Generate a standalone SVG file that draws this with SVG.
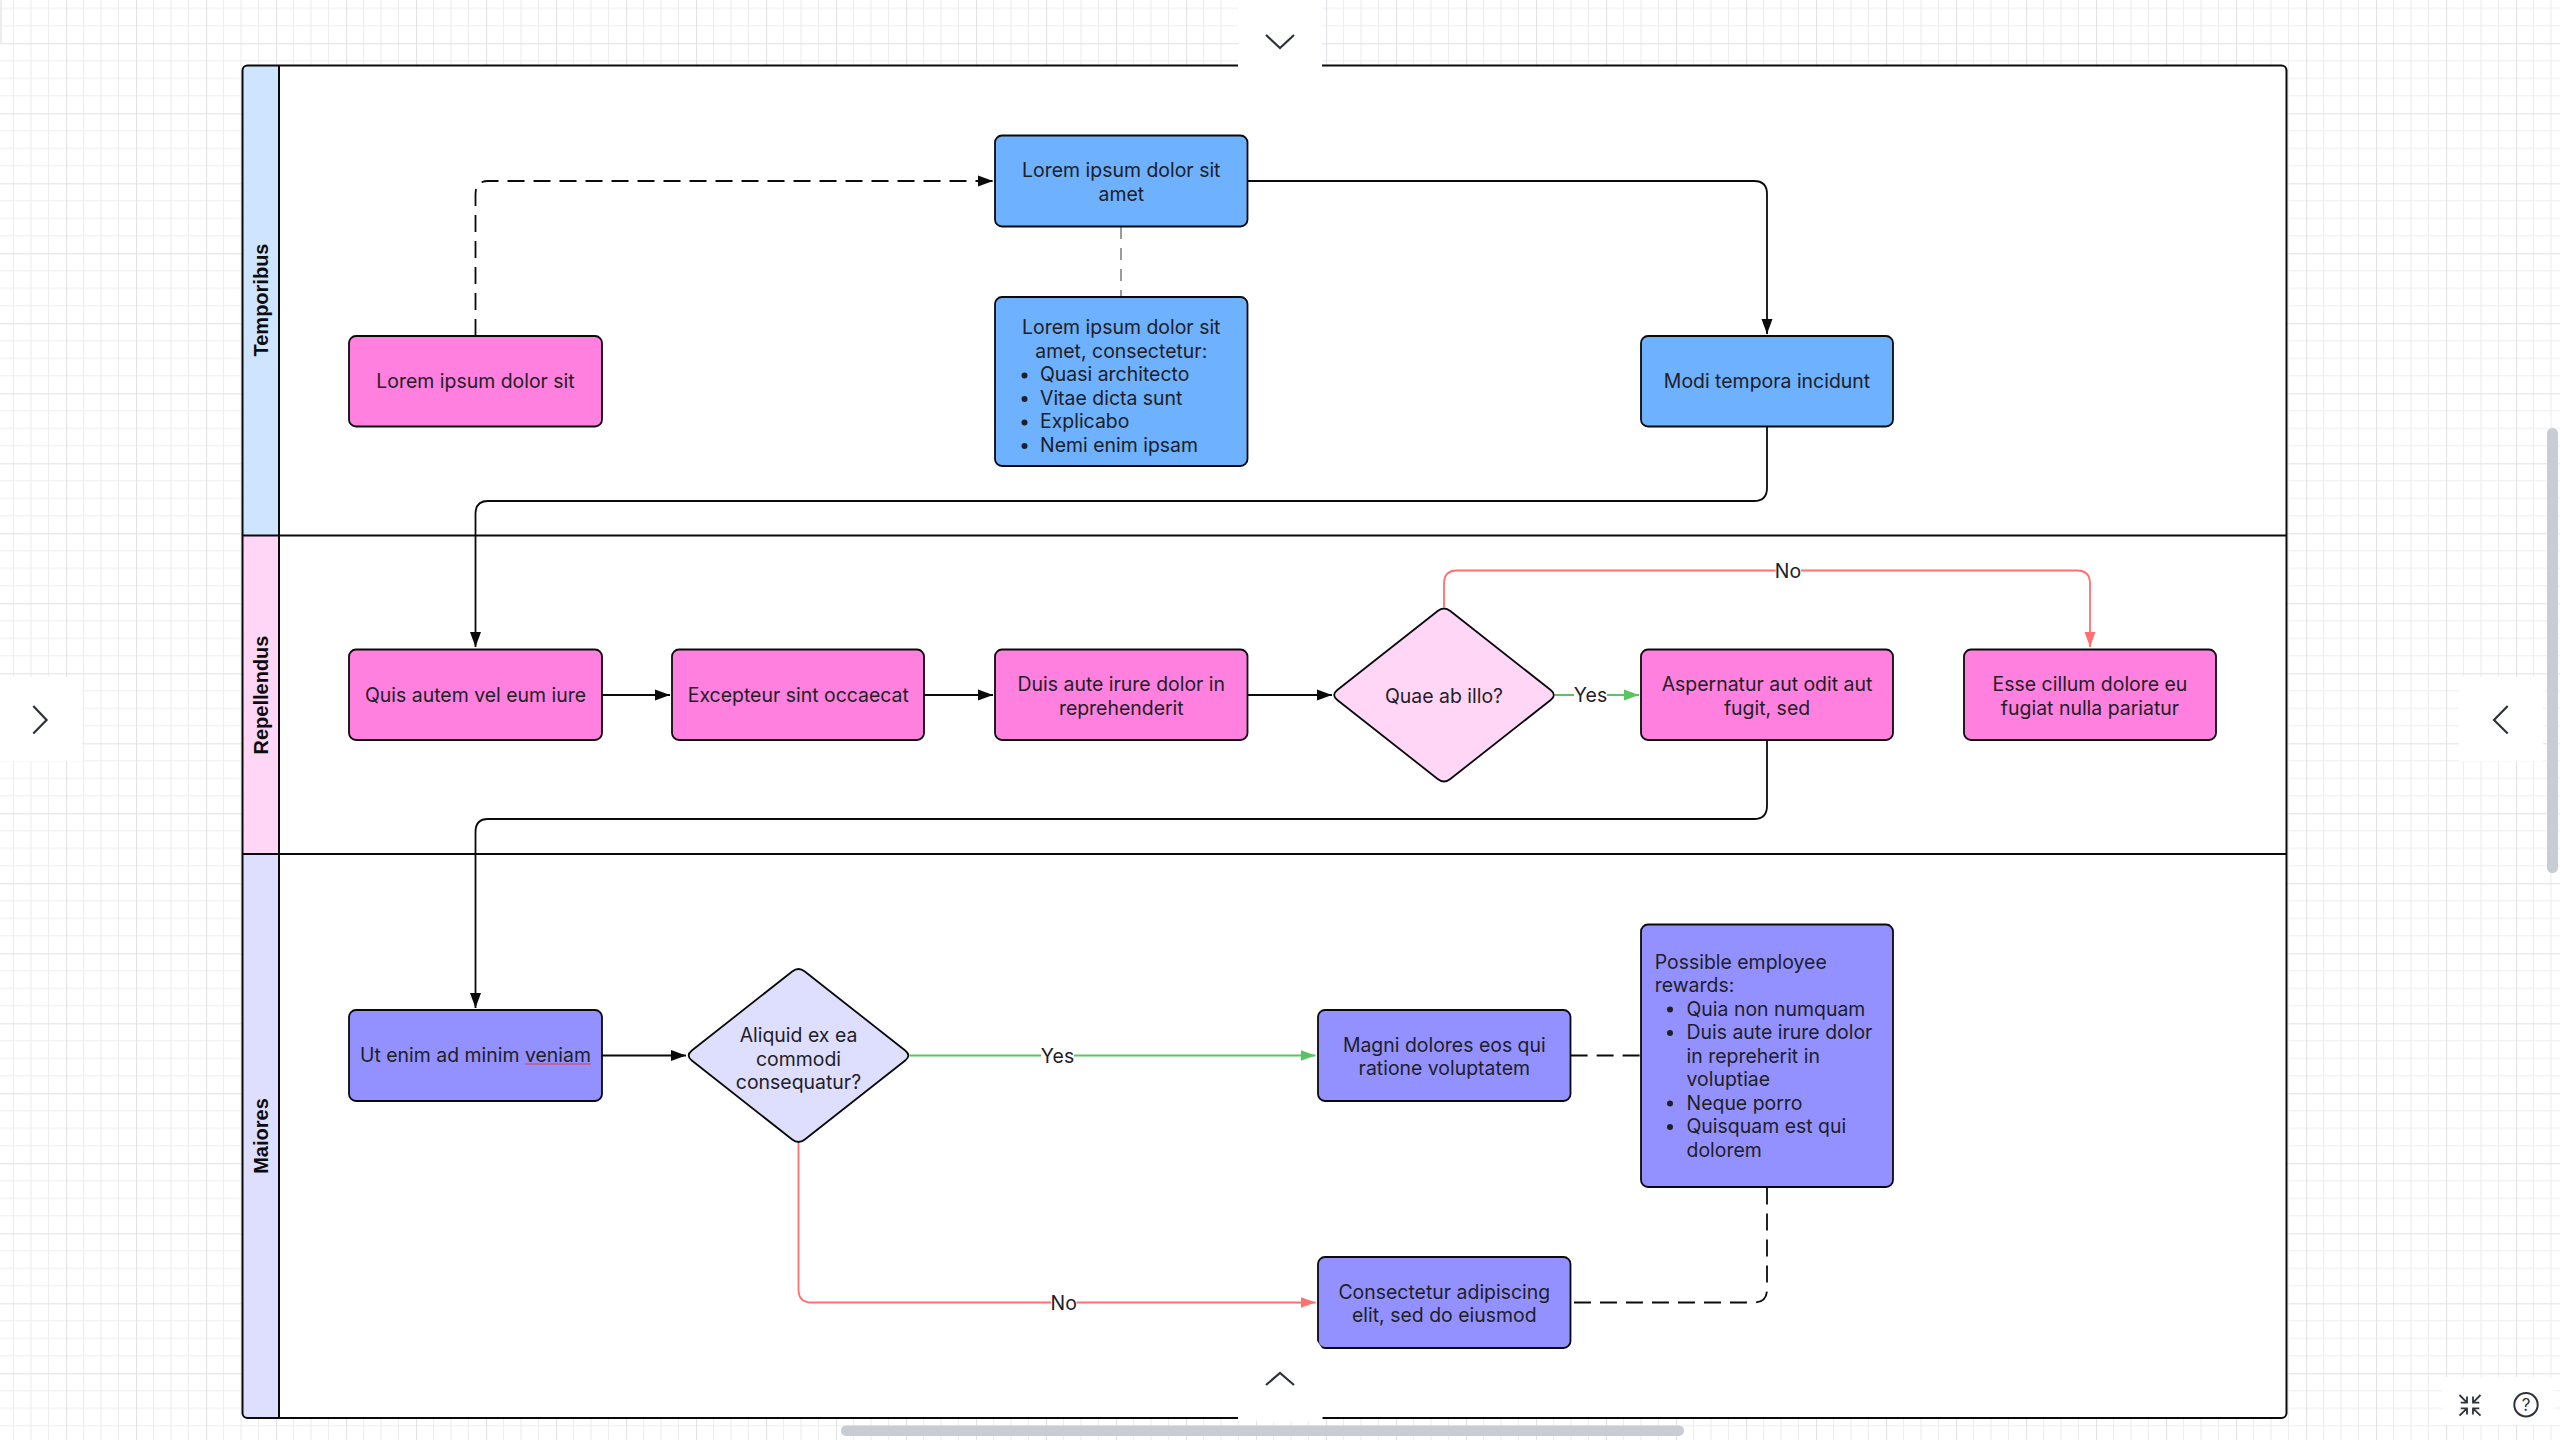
<svg xmlns="http://www.w3.org/2000/svg" width="2560" height="1440" viewBox="0 0 2560 1440">
<style>
text{font-family:Inter,"Noto Sans","Liberation Sans",sans-serif;font-size:19.45px;fill:#1e2026}
.c{text-anchor:middle}
.lane{font-family:"Liberation Sans",Arial,sans-serif;font-size:20px;font-weight:700;fill:#0c0c10;text-anchor:middle}
.n{stroke:#0a0a0a;stroke-width:1.8}
.blue{fill:#6db1ff}.pink{fill:#ff80df}.purple{fill:#9391ff}
.conn{fill:none;stroke:#0a0a0a;stroke-width:1.8}
.dash{stroke-dasharray:17 9}
.thin{stroke-width:1.3;stroke:#666;stroke-dasharray:12 9}
.green{stroke:#5ac463}.red{stroke:#ff7070}
.chev{fill:none;stroke:#2e323a;stroke-width:2.2}
.pan{fill:#fff}
.bar{fill:#c8ccd3}
.b{fill:#1e2026}
</style>
<defs>
<pattern id="grid" x="66" y="43.3" width="70" height="70" patternUnits="userSpaceOnUse">
<path d="M17.5 0V70M35 0V70M52.5 0V70M0 17.5H70M0 35H70M0 52.5H70" stroke="#eeeef1" stroke-width="1.2" fill="none"/>
<path d="M0.5 0V70M0 0.5H70" stroke="#e2e2e6" stroke-width="1.2" fill="none"/>
</pattern>
<marker id="ak" markerUnits="userSpaceOnUse" markerWidth="16" markerHeight="12" refX="15" refY="6" orient="auto"><path d="M0 0.5L15 6L0 11.5Z" fill="#0a0a0a"/></marker>
<marker id="ag" markerUnits="userSpaceOnUse" markerWidth="16" markerHeight="12" refX="15" refY="6" orient="auto"><path d="M0 0.5L15 6L0 11.5Z" fill="#5ac463"/></marker>
<marker id="ar" markerUnits="userSpaceOnUse" markerWidth="16" markerHeight="12" refX="15" refY="6" orient="auto"><path d="M0 0.5L15 6L0 11.5Z" fill="#ff7070"/></marker>
<path id="dia" d="M6.3,-84L106.7,-5Q113,0 106.7,5L6.3,84Q0,89 -6.3,84L-106.7,5Q-113,0 -106.7,-5L-6.3,-84Q0,-89 6.3,-84Z"/>
</defs>
<rect width="2560" height="1440" fill="#fff"/>
<rect width="2560" height="1440" fill="url(#grid)"/>
<rect x="0" y="0" width="2" height="43" fill="#ececef"/>
<rect id="hscroll" x="841" y="1425.5" width="843" height="10.5" rx="5" class="bar"/>
<rect id="vscroll" x="2547" y="428" width="11" height="445" rx="5.5" class="bar"/>

<g id="swimlanes">
<rect x="242.5" y="65.5" width="2044" height="1352.5" rx="5" fill="#fff"/>
<path d="M279 65.5V535.5H242.5V70.5a5 5 0 0 1 5-5Z" fill="#cfe4ff"/>
<rect x="242.5" y="535.5" width="36.5" height="318.5" fill="#ffd6f6"/>
<path d="M242.5 854H279V1418H247.5a5 5 0 0 1-5-5Z" fill="#dedeff"/>
<rect x="242.5" y="65.5" width="2044" height="1352.5" rx="5" fill="none" stroke="#0a0a0a" stroke-width="2"/>
<path d="M279 65.5V1418M242.5 535.5H2286.5M242.5 854H2286.5" fill="none" stroke="#0a0a0a" stroke-width="2"/>
<text class="lane" transform="translate(268 300) rotate(-90)">Temporibus</text>
<text class="lane" transform="translate(268 695) rotate(-90)">Repellendus</text>
<text class="lane" transform="translate(268 1136) rotate(-90)">Maiores</text>
</g>

<g id="connectors">
<path class="conn dash" d="M475.5 336V194Q475.5 181 488.5 181H993" marker-end="url(#ak)"/>
<path class="conn thin" d="M1121 227V296"/>
<path class="conn" d="M1247.5 181H1754Q1767 181 1767 194V334" marker-end="url(#ak)"/>
<path class="conn" d="M1767 427V488Q1767 501 1754 501H488Q475.5 501 475.5 514V647" marker-end="url(#ak)"/>
<path class="conn" d="M602 695H670" marker-end="url(#ak)"/>
<path class="conn" d="M924 695H993" marker-end="url(#ak)"/>
<path class="conn" d="M1247.5 695H1332" marker-end="url(#ak)"/>
<path class="conn green" d="M1555 695H1639" marker-end="url(#ag)"/>
<path class="conn red" d="M1444 607V583.5Q1444 570.5 1457 570.5H2077Q2090 570.5 2090 583.5V647" marker-end="url(#ar)"/>
<path class="conn" d="M1767 741V806Q1767 819 1754 819H488Q475.5 819 475.5 832V1008" marker-end="url(#ak)"/>
<path class="conn" d="M602 1055.5H686" marker-end="url(#ak)"/>
<path class="conn green" d="M909.5 1055.5H1315.5" marker-end="url(#ag)"/>
<path class="conn red" d="M798.5 1143V1289.5Q798.5 1302.5 811.5 1302.5H1315.5" marker-end="url(#ar)"/>
<path class="conn dash" d="M1570.6 1055.5H1641"/>
<path class="conn dash" d="M1767 1187.5V1289.5Q1767 1302.5 1754 1302.5H1570.6"/>
<rect x="1574" y="684" width="33" height="22" fill="#fff"/>
<text class="c" x="1590.5" y="702">Yes</text>
<rect x="1775.5" y="560" width="25.5" height="22" fill="#fff"/>
<text class="c" x="1788" y="578">No</text>
<rect x="1041" y="1045" width="33" height="22" fill="#fff"/>
<text class="c" x="1057.5" y="1062.5">Yes</text>
<rect x="1051" y="1291" width="25.5" height="22" fill="#fff"/>
<text class="c" x="1063.7" y="1309.5">No</text>
</g>

<g id="n1"><rect class="n pink" x="349" y="336" width="253" height="90.5" rx="7"/><text class="c" x="475.5" y="387.5">Lorem ipsum dolor sit</text></g>
<g id="n2"><rect class="n blue" x="995" y="135.5" width="252.5" height="91" rx="7"/><text class="c" x="1121.3" y="177.3">Lorem ipsum dolor sit</text><text class="c" x="1121.3" y="200.8">amet</text></g>
<g id="n3"><rect class="n blue" x="995" y="297" width="252.5" height="169" rx="7"/><text class="c" x="1121.3" y="334.4">Lorem ipsum dolor sit</text><text class="c" x="1121.3" y="357.9">amet, consectetur:</text>
<circle class="b" cx="1024.5" cy="375.5" r="3"/><text x="1040" y="381.4">Quasi architecto</text>
<circle class="b" cx="1024.5" cy="399" r="3"/><text x="1040" y="404.9">Vitae dicta sunt</text>
<circle class="b" cx="1024.5" cy="422.5" r="3"/><text x="1040" y="428.4">Explicabo</text>
<circle class="b" cx="1024.5" cy="446" r="3"/><text x="1040" y="451.9">Nemi enim ipsam</text></g>
<g id="n4"><rect class="n blue" x="1641" y="336" width="252" height="90.5" rx="7"/><text class="c" x="1767" y="387.5">Modi tempora incidunt</text></g>
<g id="n5"><rect class="n pink" x="349" y="649.5" width="253" height="90.5" rx="7"/><text class="c" x="475.5" y="701.7">Quis autem vel eum iure</text></g>
<g id="n6"><rect class="n pink" x="672" y="649.5" width="252" height="90.5" rx="7"/><text class="c" x="798.3" y="701.7">Excepteur sint occaecat</text></g>
<g id="n7"><rect class="n pink" x="995" y="649.5" width="252.5" height="90.5" rx="7"/><text class="c" x="1121.3" y="691">Duis aute irure dolor in</text><text class="c" x="1121.3" y="714.5">reprehenderit</text></g>
<g id="n8"><use href="#dia" class="n" transform="translate(1444 695)" fill="#ffd6f6"/><text class="c" x="1444" y="702.5">Quae ab illo?</text></g>
<g id="n9"><rect class="n pink" x="1641" y="649.5" width="252" height="90.5" rx="7"/><text class="c" x="1767" y="691">Aspernatur aut odit aut</text><text class="c" x="1767" y="714.5">fugit, sed</text></g>
<g id="n10"><rect class="n pink" x="1964" y="649.5" width="252" height="90.5" rx="7"/><text class="c" x="2090" y="691">Esse cillum dolore eu</text><text class="c" x="2090" y="714.5">fugiat nulla pariatur</text></g>
<g id="n11"><rect class="n purple" x="349" y="1010" width="253" height="91" rx="7"/><text class="c" x="475.5" y="1062">Ut enim ad minim veniam</text><path d="M525 1064H591" stroke="#d8404a" stroke-width="1.2" fill="none"/></g>
<g id="n12"><use href="#dia" class="n" transform="translate(798.5 1055.5)" fill="#dedeff"/><text class="c" x="798.5" y="1042">Aliquid ex ea</text><text class="c" x="798.5" y="1065.5">commodi</text><text class="c" x="798.5" y="1089">consequatur?</text></g>
<g id="n13"><rect class="n purple" x="1318" y="1010" width="252.5" height="91" rx="7"/><text class="c" x="1444.3" y="1052">Magni dolores eos qui</text><text class="c" x="1444.3" y="1075">ratione voluptatem</text></g>
<g id="n14"><rect class="n purple" x="1641" y="924.5" width="252" height="262.5" rx="7"/><text x="1654.7" y="968.5">Possible employee</text><text x="1654.7" y="992">rewards:</text>
<circle class="b" cx="1670" cy="1009.5" r="3"/><text x="1686.5" y="1015.5">Quia non numquam</text>
<circle class="b" cx="1670" cy="1033" r="3"/><text x="1686.5" y="1039">Duis aute irure dolor</text>
<text x="1686.5" y="1062.5">in repreherit in</text><text x="1686.5" y="1086">voluptiae</text>
<circle class="b" cx="1670" cy="1103.5" r="3"/><text x="1686.5" y="1109.5">Neque porro</text>
<circle class="b" cx="1670" cy="1127" r="3"/><text x="1686.5" y="1133">Quisquam est qui</text>
<text x="1686.5" y="1156.5">dolorem</text></g>
<g id="n15"><rect class="n purple" x="1318" y="1257" width="252.5" height="91" rx="7"/><text class="c" x="1444.3" y="1299">Consectetur adipiscing</text><text class="c" x="1444.3" y="1322">elit, sed do eiusmod</text></g>

<g id="controls">
<rect class="pan" x="1238" y="0" width="84" height="67"/>
<polygon class="pan" points="1238,1421 1238,1345 1316,1339 1322.5,1349 1322.5,1421"/>
<rect class="pan" x="0" y="677" width="82" height="84"/>
<rect class="pan" x="2459" y="677" width="84" height="84"/>
<rect class="pan" x="2442" y="1377" width="113" height="48"/>
<path class="chev" d="M1266 35L1280 48L1294 35"/>
<path class="chev" d="M1266 1385L1280 1373L1294 1385"/>
<path class="chev" d="M33.3 706L46.6 720L33.3 733.5"/>
<path class="chev" d="M2507.7 706L2494 720L2507.7 733.5"/>
<path d="M2459.5 1395L2467 1402.7M2467 1396.5V1402.7H2460.7M2480.5 1395L2473 1402.7M2473 1396.5V1402.7H2479.3M2459.5 1415.7L2467 1408.3M2467 1414.5V1408.3H2460.7M2480.5 1415.7L2473 1408.3M2473 1414.5V1408.3H2479.3" fill="none" stroke="#2e323a" stroke-width="1.8"/>
<circle cx="2526" cy="1404.7" r="11.7" fill="none" stroke="#2e323a" stroke-width="2"/>
<text class="c" x="2526" y="1411" style="font-size:17px;fill:#2e323a">?</text>
</g>
</svg>
